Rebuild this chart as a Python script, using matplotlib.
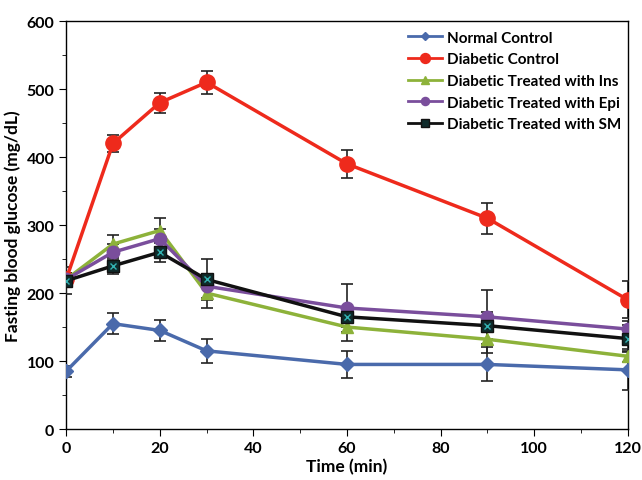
import matplotlib
matplotlib.use("Agg")
import matplotlib.pyplot as plt
from matplotlib.ticker import MultipleLocator
from matplotlib.lines import Line2D

plt.rcParams['font.family'] = ['Lato', 'DejaVu Sans']
plt.rcParams['font.weight'] = 'bold'

time = [0, 10, 20, 30, 60, 90, 120]
labels = ["Normal Control", "Diabetic Control", "Diabetic Treated with Ins",
          "Diabetic Treated with Epi", "Diabetic Treated with SM"]
normal = [85, 155, 145, 115, 95, 95, 87]
normal_err = [8, 15, 15, 18, 20, 25, 30]
diabetic = [220, 420, 480, 510, 390, 310, 190]
diabetic_err = [10, 13, 15, 17, 21, 23, 27]
ins = [220, 272, 292, 200, 150, 132, 107]
ins_err = [10, 13, 18, 22, 20, 20, 8]
epi = [220, 260, 280, 210, 178, 165, 147]
epi_err = [10, 12, 14, 18, 35, 40, 12]
sm = [218, 240, 260, 220, 165, 152, 133]
sm_err = [20, 12, 15, 30, 15, 20, 20]

fig = plt.figure(figsize=(6.42, 4.81), dpi=100)
ax = fig.add_axes([0.103, 0.106, 0.875, 0.848])

styles = [
    (normal, normal_err, '#4a6aab', 'D', 7),
    (diabetic, diabetic_err, '#ee2a1c', 'o', 11),
    (ins, ins_err, '#8db23a', '^', 9),
    (epi, epi_err, '#7a4e9c', 'o', 9),
    (sm, sm_err, '#111111', 's', 8),
]
handles = []
for (y, e, c, m, ms), lab in zip(styles, labels):
    mfc = c if m != 's' else '#0f2b2b'
    ax.errorbar(time, y, yerr=e, color=c, lw=2.5, marker=m, ms=ms,
                mfc=mfc, mec=c, ecolor='#222222', elinewidth=1.2,
                capsize=4, capthick=1.2, zorder=3)
    handles.append(Line2D([], [], color=c, lw=2, marker=m, ms=ms * 0.65,
                          mfc=mfc, mec=c, label=lab))
ax.plot(time, sm, ls='none', marker='x', ms=4, mew=1, color='#33b3b3', zorder=4)

ax.set_xlim(0, 120)
ax.set_ylim(0, 600)
ax.xaxis.set_major_locator(MultipleLocator(20))
ax.xaxis.set_minor_locator(MultipleLocator(10))
ax.yaxis.set_major_locator(MultipleLocator(100))
ax.yaxis.set_minor_locator(MultipleLocator(50))
ax.tick_params(which='both', direction='out', labelsize=11.5)
ax.tick_params(which='major', length=5)
ax.tick_params(which='minor', length=3)
for s in ax.spines.values():
    s.set_linewidth(1.0)
ax.set_xlabel("Time (min)", fontsize=12.5, fontweight='bold', labelpad=2)
ax.set_ylabel("Fasting blood glucose (mg/dL)", fontsize=12.5, fontweight='bold')
leg = ax.legend(handles=handles, loc='upper right', frameon=False, fontsize=11,
                handlelength=2.2, borderaxespad=0.5, labelspacing=0.5,
                handletextpad=0.3, bbox_to_anchor=(1.012, 1.01))
fig.savefig("out.png", dpi=100)
